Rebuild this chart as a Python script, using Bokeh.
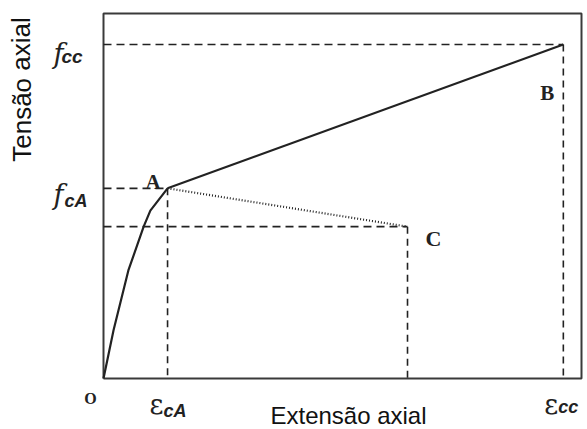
from bokeh.plotting import figure
from bokeh.models import Range1d
from bokeh.core.properties import value
from bokeh.embed import file_html
from bokeh.resources import INLINE

# Stress-strain sketch of confined concrete (arbitrary units, box spans 0..10)
curve_strain = [0.0, 0.21, 0.52, 0.84, 0.98, 1.34]
curve_stress = [0.0, 1.32, 2.96, 4.16, 4.60, 5.21]

point_names = ["A", "B", "C"]
point_strain = [1.34, 9.62, 6.36]
point_stress = [5.21, 9.15, 4.16]

x_max = 10.0
y_max = 10.0

A = (point_strain[0], point_stress[0])
B = (point_strain[1], point_stress[1])
C = (point_strain[2], point_stress[2])

W, H = 587, 429
# frame covers the whole canvas; the drawing box is inset inside it
left_px, right_px, top_px, bottom_px = 103, 581, 13, 378
kx = (right_px - left_px) / x_max
ky = (bottom_px - top_px) / y_max

p = figure(width=W, height=H, output_backend="svg", toolbar_location=None,
           x_range=Range1d(-left_px / kx, (W - left_px) / kx),
           y_range=Range1d(-(H - bottom_px) / ky, bottom_px / ky),
           min_border=0, background_fill_color="white",
           border_fill_color="white", outline_line_color=None)
p.axis.visible = False
p.grid.visible = False

ink = "#222222"

# box around the diagram
p.line([0, x_max, x_max, 0, 0], [0, 0, y_max, y_max, 0],
       line_color="#3a3a3a", line_width=2)

# dashed guides from each point to the axes
for (px_, py_) in (A, B, C):
    p.line([0, px_], [py_, py_], line_color=ink, line_width=1.6, line_dash="8 5")
    p.line([px_, px_], [py_, 0], line_color=ink, line_width=1.6, line_dash="7 5")

# ascending branch O-A
p.line(curve_strain, curve_stress, line_color=ink, line_width=2.2)
# hardening branch A-B
p.line([A[0], B[0]], [A[1], B[1]], line_color=ink, line_width=2.2)
# softening branch A-C
p.line([A[0], C[0]], [A[1], C[1]], line_color=ink, line_width=2.2,
       line_dash="1 2")

serif = value("DejaVu Serif")
times = value("Liberation Serif")
sans = value("Liberation Sans")
base = dict(text_baseline="alphabetic", text_color=ink)

# point letters
p.text([A[0]], [A[1]], text=["A"], text_font=times, text_font_style="bold",
       text_font_size="21px", text_align="right", x_offset=-7, y_offset=-6, **base)
p.text([B[0]], [B[1]], text=["B"], text_font=times, text_font_style="bold",
       text_font_size="21px", text_align="right", x_offset=-9, y_offset=48, **base)
p.text([C[0]], [C[1]], text=["C"], text_font=times, text_font_style="bold",
       text_font_size="22px", text_align="left", x_offset=18, y_offset=12, **base)
p.text([0], [0], text=["O"], text_font=times, text_font_style="bold",
       text_font_size="16px", text_align="center", x_offset=-13, y_offset=20, **base)

# stress tick labels
p.text([0], [B[1]], text=["f"], text_font=serif, text_font_style="italic",
       text_font_size="27px", x_offset=-50, y_offset=9, **base)
p.text([0], [B[1]], text=["cc"], text_font=sans, text_font_style="bold italic",
       text_font_size="19px", x_offset=-42, y_offset=12, **base)
p.text([0], [A[1]], text=["f"], text_font=serif, text_font_style="italic",
       text_font_size="27px", x_offset=-50, y_offset=6, **base)
p.text([0], [A[1]], text=["cA"], text_font=sans, text_font_style="bold italic",
       text_font_size="18px", x_offset=-39, y_offset=13, **base)

# strain tick labels
p.text([A[0]], [0], text=["ε"], text_font=serif,
       text_font_size="27px", x_offset=-18, y_offset=26, **base)
p.text([A[0]], [0], text=["cA"], text_font=sans, text_font_style="bold italic",
       text_font_size="18px", x_offset=-4, y_offset=32, **base)
p.text([B[0]], [0], text=["ε"], text_font=serif,
       text_font_size="27px", x_offset=-19, y_offset=26, **base)
p.text([B[0]], [0], text=["cc"], text_font=sans, text_font_style="bold italic",
       text_font_size="18px", x_offset=-5, y_offset=28, **base)

# axis titles
p.text([x_max / 2], [0], text=["Extensão axial"], text_font=sans,
       text_font_size="24px", text_align="center", text_baseline="alphabetic",
       text_color="#111111", x_offset=6, y_offset=37)
p.text([0], [y_max], text=["Tensão axial"], text_font=sans,
       text_font_size="26px", text_align="center", text_baseline="middle",
       angle=1.5708, text_color="#111111", x_offset=-82, y_offset=76)

open("out.html", "w").write(file_html(p, INLINE))
